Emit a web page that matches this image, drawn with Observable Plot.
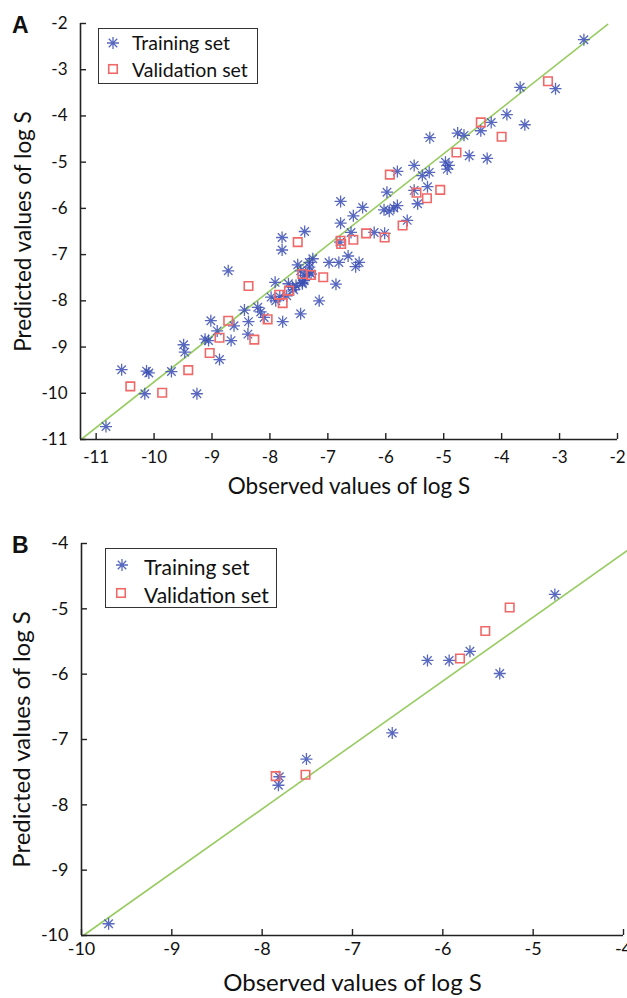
<!DOCTYPE html>
<html><head><meta charset="utf-8">
<script src="https://cdn.jsdelivr.net/npm/d3@7"></script>
<script src="https://cdn.jsdelivr.net/npm/@observablehq/plot@0.6"></script>
<style>
body{margin:0;background:#fff;}
#wrap{position:relative;width:627px;height:998px;overflow:hidden;background:#fff;font-family:Lato,sans-serif;}
.panel{position:absolute;left:0;}
.plab{position:absolute;font-family:"Liberation Sans",Arial,sans-serif;font-weight:bold;font-size:23px;line-height:1;color:#111;}
.legend{position:absolute;border:1.3px solid #333;background:#fff;box-sizing:border-box;}
.legend svg{position:absolute;left:0;top:0;overflow:visible;}
.legend .t{position:absolute;white-space:nowrap;font-family:Lato,sans-serif;color:#111;line-height:1;transform:translateY(-50%);}
</style></head><body><div id="wrap"></div>
<script>
// ---------- data (observed, predicted) ----------
const trainingA = [
[-10.83,-10.72],[-10.56,-9.49],[-10.13,-9.52],[-10.09,-9.56],[-10.16,-10.01],[-9.70,-9.53],
[-9.26,-10.01],[-9.49,-8.95],[-9.47,-9.11],[-9.02,-8.43],[-9.12,-8.83],[-9.06,-8.86],
[-8.87,-9.27],[-8.91,-8.65],[-8.67,-8.86],[-8.62,-8.54],[-8.72,-7.35],[-8.44,-8.20],
[-8.37,-8.45],[-8.38,-8.72],[-8.21,-8.14],[-8.16,-8.24],[-8.10,-8.36],[-7.91,-7.60],
[-7.79,-6.90],[-7.79,-6.63],[-7.83,-7.91],[-7.78,-8.45],[-7.47,-8.28],[-7.52,-7.22],
[-7.44,-7.60],[-7.15,-8.00],[-7.59,-7.76],[-7.32,-7.38],[-7.26,-7.09],[-7.40,-6.50],
[-6.78,-6.32],[-6.78,-5.85],[-7.32,-7.17],[-6.98,-7.17],[-6.81,-7.17],[-6.65,-7.03],
[-7.47,-7.35],[-7.41,-7.45],[-7.29,-7.42],[-7.68,-7.63],[-7.55,-7.67],[-7.61,-7.71],
[-6.86,-7.64],[-7.98,-7.92],[-7.90,-8.00],[-7.71,-7.89],[-7.41,-7.56],[-5.24,-4.47],
[-4.76,-4.37],[-5.80,-5.20],[-5.51,-5.07],[-5.37,-5.29],[-5.25,-5.22],[-4.97,-5.00],
[-4.91,-5.07],[-4.94,-5.15],[-5.98,-5.65],[-5.51,-5.61],[-5.28,-5.53],[-5.45,-5.90],
[-6.40,-5.98],[-6.03,-6.03],[-5.94,-6.06],[-5.86,-5.99],[-5.80,-5.94],[-6.56,-6.16],
[-5.63,-6.26],[-6.60,-6.52],[-6.20,-6.52],[-6.02,-6.54],[-6.79,-6.73],[-6.46,-7.17],
[-6.52,-7.26],[-7.32,-7.27],[-2.58,-2.35],[-3.68,-3.38],[-3.07,-3.41],[-3.91,-3.97],
[-4.18,-4.14],[-3.60,-4.19],[-4.36,-4.32],[-4.65,-4.42],[-4.56,-4.86],[-4.25,-4.92],
[-7.44,-7.63]
];
const validationA = [
[-10.41,-9.85],[-9.86,-9.99],[-9.41,-9.50],[-9.04,-9.13],[-8.87,-8.80],[-8.72,-8.43],
[-8.37,-7.68],[-8.27,-8.84],[-8.04,-8.40],[-7.84,-7.87],[-7.78,-8.05],[-7.67,-7.78],
[-7.52,-6.73],[-7.44,-7.42],[-7.29,-7.44],[-7.08,-7.49],[-6.78,-6.70],[-6.77,-6.77],
[-6.56,-6.68],[-6.34,-6.54],[-6.02,-6.63],[-5.71,-6.37],[-5.93,-5.27],[-5.47,-5.66],
[-5.29,-5.78],[-5.06,-5.60],[-4.78,-4.79],[-4.36,-4.14],[-4.00,-4.45],[-3.20,-3.25]
];
const fitA = [[-11.26,-11.0],[-2.17,-2.02]];

const trainingB = [
[-9.70,-9.82],[-7.81,-7.57],[-7.82,-7.70],[-7.51,-7.30],[-6.56,-6.90],
[-6.17,-5.79],[-5.93,-5.79],[-5.70,-5.65],[-5.37,-5.99],[-4.76,-4.78]
];
const validationB = [
[-7.85,-7.56],[-7.52,-7.54],[-5.81,-5.76],[-5.53,-5.34],[-5.26,-4.98]
];
const fitB = [[-9.98,-10.0],[-3.95,-4.10]];

const xTicksA = [-11,-10,-9,-8,-7,-6,-5,-4,-3,-2];
const yTicksA = [-11,-10,-9,-8,-7,-6,-5,-4,-3,-2];
const xTicksB = [-10,-9,-8,-7,-6,-5,-4];
const yTicksB = [-10,-9,-8,-7,-6,-5,-4];
const xTitle = "Observed values of log S";
const yTitle = "Predicted values of log S";
const seriesNames = ["Training set","Validation set"];

// ---------- styles ----------
const starColor = "#3a4db3";
const squareColor = "#f06868";
const fitColor = "#98cc62";
const axisColor = "#222";
const asterisk = {
  draw(ctx, size) {
    const r = Math.sqrt(size / Math.PI), d = r * Math.SQRT1_2;
    ctx.moveTo(-r, 0); ctx.lineTo(r, 0);
    ctx.moveTo(0, -r); ctx.lineTo(0, r);
    ctx.moveTo(-d, -d); ctx.lineTo(d, d);
    ctx.moveTo(-d, d); ctx.lineTo(d, -d);
  }
};

function panel({training, validation, fit, xDomain, yDomain, xTicks, yTicks, width, height, margins, fs, clipFit, xPad, titleDy}) {
  return Plot.plot({
    width, height,
    marginLeft: margins[0], marginRight: margins[1], marginTop: margins[2], marginBottom: margins[3],
    x: {domain: xDomain},
    y: {domain: yDomain},
    style: {fontFamily: "Lato, sans-serif", fontSize: fs.tick + "px", color: "#111", background: "white", overflow: "visible"},
    marks: [
      Plot.line(fit, {x: d => d[0], y: d => d[1], stroke: fitColor, strokeWidth: 1.6, clip: clipFit}),
      Plot.dot(training, {x: d => d[0], y: d => d[1], symbol: asterisk, r: 6, stroke: starColor, strokeWidth: 1.3, strokeOpacity: 0.85, fill: "none"}),
      Plot.dot(validation, {x: d => d[0], y: d => d[1], symbol: "square", r: 4.8, stroke: squareColor, strokeWidth: 1.6, fill: "none"}),
      Plot.ruleX([xDomain[0]], {stroke: axisColor, strokeWidth: 1.6}),
      Plot.ruleY([yDomain[0]], {stroke: axisColor, strokeWidth: 1.6}),
      Plot.axisX({ticks: xTicks, tickSize: -6, tickPadding: xPad, label: null, stroke: axisColor, strokeWidth: 1.4, tickFormat: d => String(d).replace("−","-")}),
      Plot.axisY({ticks: yTicks, tickSize: -6, tickPadding: 19, label: null, stroke: axisColor, strokeWidth: 1.4, tickFormat: d => String(d).replace("−","-")}),
      Plot.text([xTitle], {text: d => d, frameAnchor: "bottom", dy: titleDy[0], fontSize: fs.title, textAnchor: "middle", lineAnchor: "middle"}),
      Plot.text([yTitle], {text: d => d, frameAnchor: "left", dx: titleDy[1], rotate: -90, fontSize: fs.title, textAnchor: "middle", lineAnchor: "middle"})
    ]
  });
}

const wrap = document.getElementById("wrap");

const A = panel({training: trainingA, validation: validationA, fit: fitA,
  xDomain: [-11.27, -2], yDomain: [-11, -2], xTicks: xTicksA, yTicks: yTicksA,
  width: 627, height: 510, margins: [80, 10, 23, 71], fs: {tick: 17, title: 22.5}, clipFit: true, xPad: 17, titleDy: [47, -57]});
A.classList.add("panel"); A.style.top = "0px";
wrap.appendChild(A);

const B = panel({training: trainingB, validation: validationB, fit: fitB,
  xDomain: [-10, -4], yDomain: [-10, -4], xTicks: xTicksB, yTicks: yTicksB,
  width: 627, height: 488, margins: [81, 4, 33, 63], fs: {tick: 18, title: 24}, clipFit: false, xPad: 13, titleDy: [48, -59]});
B.classList.add("panel"); B.style.top = "510px";
wrap.appendChild(B);

function label(txt, x, y) {
  const d = document.createElement("div");
  d.className = "plab"; d.textContent = txt;
  d.style.left = x + "px"; d.style.top = y + "px";
  wrap.appendChild(d);
}
label("A", 12, 14);
label("B", 12, 534);

function legend({left, top, w, h, starPos, sqPos, textX, rowY, fontSize}) {
  const box = document.createElement("div");
  box.className = "legend";
  Object.assign(box.style, {left: left + "px", top: top + "px", width: w + "px", height: h + "px"});
  const ns = "http://www.w3.org/2000/svg";
  const svg = document.createElementNS(ns, "svg");
  svg.setAttribute("width", w); svg.setAttribute("height", h);
  const r = 6, dd = r * Math.SQRT1_2;
  const p = document.createElementNS(ns, "path");
  p.setAttribute("d", `M${-r},0L${r},0M0,${-r}L0,${r}M${-dd},${-dd}L${dd},${dd}M${-dd},${dd}L${dd},${-dd}`);
  p.setAttribute("transform", `translate(${starPos[0]},${starPos[1]})`);
  p.setAttribute("stroke", starColor); p.setAttribute("stroke-width", 1.3); p.setAttribute("stroke-opacity", 0.85); p.setAttribute("fill", "none");
  svg.appendChild(p);
  const s = 8.5;
  const rect = document.createElementNS(ns, "rect");
  rect.setAttribute("x", sqPos[0] - s / 2); rect.setAttribute("y", sqPos[1] - s / 2);
  rect.setAttribute("width", s); rect.setAttribute("height", s);
  rect.setAttribute("stroke", squareColor); rect.setAttribute("stroke-width", 1.6); rect.setAttribute("fill", "none");
  svg.appendChild(rect);
  box.appendChild(svg);
  seriesNames.forEach((n, i) => {
    const t = document.createElement("div");
    t.className = "t"; t.textContent = n;
    Object.assign(t.style, {left: textX + "px", top: rowY[i] + "px", fontSize: fontSize + "px"});
    box.appendChild(t);
  });
  wrap.appendChild(box);
}
legend({left: 98, top: 28, w: 160, h: 56, starPos: [14, 14], sqPos: [14, 40], textX: 33, rowY: [14, 41], fontSize: 19.5});
legend({left: 105, top: 548, w: 172, h: 60, starPos: [16, 16], sqPos: [15, 44], textX: 38, rowY: [17, 45], fontSize: 21});
</script></body></html>
